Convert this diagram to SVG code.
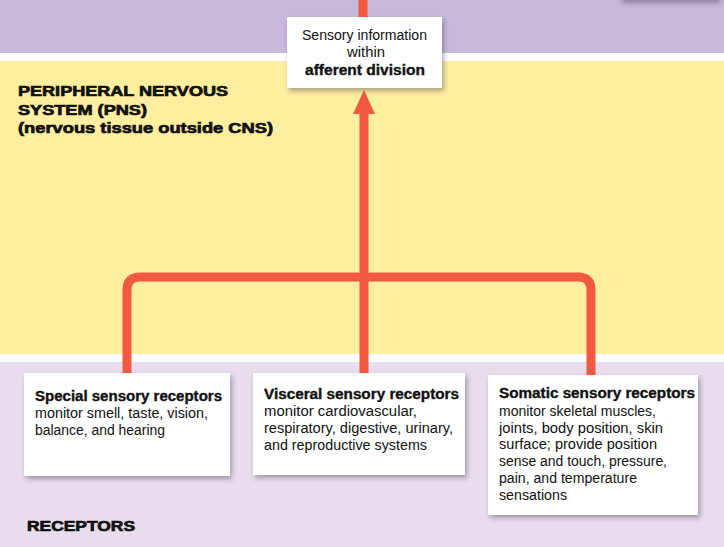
<svg xmlns="http://www.w3.org/2000/svg" width="724" height="547" viewBox="0 0 724 547">
<defs>
<filter id="sh" x="-10%" y="-10%" width="125%" height="130%">
<feDropShadow dx="2" dy="3" stdDeviation="2.5" flood-color="#3a3050" flood-opacity="0.4"/>
</filter>
</defs>
<style>
.box{fill:#ffffff;filter:url(#sh)}
.t{font-family:"Liberation Sans",Arial,sans-serif;font-size:14px;fill:#111}
.b{font-family:"Liberation Sans",Arial,sans-serif;font-size:14px;font-weight:bold;fill:#111;stroke:#111;stroke-width:0.35}
.h{font-family:"Liberation Sans",Arial,sans-serif;font-size:14.5px;font-weight:900;fill:#111;stroke:#111;stroke-width:0.7}
.wire{fill:none;stroke:#f15a3f;stroke-width:9}
</style>
<g id="bands">
<rect x="0" y="0" width="724" height="547" fill="#ffffff"/>
<rect x="0" y="0" width="724" height="53" fill="#c6b9da"/>
<rect x="0" y="61" width="724" height="293" fill="#feee9f"/>
<rect x="0" y="362" width="724" height="185" fill="#e7ddec"/>
<rect x="620" y="-40" width="98" height="40" fill="#ffffff" filter="url(#sh)"/>
</g>
<g id="labels">
<text class="h" x="18" y="96" textLength="210" lengthAdjust="spacingAndGlyphs">PERIPHERAL NERVOUS</text>
<text class="h" x="18" y="115" textLength="129" lengthAdjust="spacingAndGlyphs">SYSTEM (PNS)</text>
<text class="h" x="18" y="133" textLength="255" lengthAdjust="spacingAndGlyphs">(nervous tissue outside CNS)</text>
<text class="h" x="27" y="531" textLength="108" lengthAdjust="spacingAndGlyphs">RECEPTORS</text>
</g>
<g id="connectors">
<line class="wire" x1="363" y1="0" x2="363" y2="18"/>
<path class="wire" d="M364,110 V374"/>
<polygon points="364,90 353,114 375,114" fill="#f15a3f"/>
<path class="wire" d="M127,375 V290 Q127,277 140,277 H578 Q591,277 591,290 V376"/>
</g>
<g id="afferent">
<rect class="box" x="287" y="17" width="155" height="71"/>
<text class="t" x="364.5" y="40" text-anchor="middle" textLength="125" lengthAdjust="spacingAndGlyphs">Sensory information</text>
<text class="t" x="366" y="57" text-anchor="middle" textLength="38" lengthAdjust="spacingAndGlyphs">within</text>
<text class="b" x="365" y="75" text-anchor="middle" textLength="120" lengthAdjust="spacingAndGlyphs">afferent division</text>
</g>
<g id="special">
<rect class="box" x="24" y="373" width="206" height="103"/>
<text class="b" x="35" y="401" textLength="187" lengthAdjust="spacingAndGlyphs">Special sensory receptors</text>
<text class="t" x="35" y="418" textLength="173" lengthAdjust="spacingAndGlyphs">monitor smell, taste, vision,</text>
<text class="t" x="35" y="435" textLength="130" lengthAdjust="spacingAndGlyphs">balance, and hearing</text>
</g>
<g id="visceral">
<rect class="box" x="253" y="373" width="212" height="102"/>
<text class="b" x="264" y="399" textLength="195" lengthAdjust="spacingAndGlyphs">Visceral sensory receptors</text>
<text class="t" x="264" y="416" textLength="153" lengthAdjust="spacingAndGlyphs">monitor cardiovascular,</text>
<text class="t" x="264" y="433" textLength="189" lengthAdjust="spacingAndGlyphs">respiratory, digestive, urinary,</text>
<text class="t" x="264" y="450" textLength="163" lengthAdjust="spacingAndGlyphs">and reproductive systems</text>
</g>
<g id="somatic">
<rect class="box" x="488" y="375" width="210" height="140"/>
<text class="b" x="499" y="398" textLength="196" lengthAdjust="spacingAndGlyphs">Somatic sensory receptors</text>
<text class="t" x="499" y="416" textLength="157" lengthAdjust="spacingAndGlyphs">monitor skeletal muscles,</text>
<text class="t" x="499" y="433" textLength="164" lengthAdjust="spacingAndGlyphs">joints, body position, skin</text>
<text class="t" x="499" y="449" textLength="158" lengthAdjust="spacingAndGlyphs">surface; provide position</text>
<text class="t" x="499" y="466" textLength="168" lengthAdjust="spacingAndGlyphs">sense and touch, pressure,</text>
<text class="t" x="499" y="483" textLength="138" lengthAdjust="spacingAndGlyphs">pain, and temperature</text>
<text class="t" x="499" y="500" textLength="68" lengthAdjust="spacingAndGlyphs">sensations</text>
</g>
</svg>
